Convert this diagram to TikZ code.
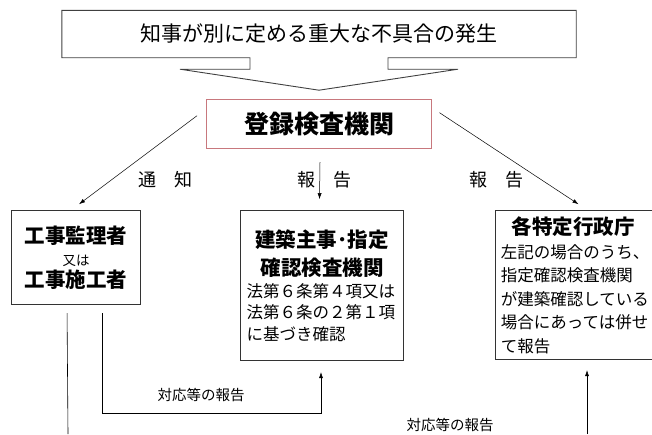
\documentclass[tikz,border=0pt]{standalone}
\usepackage{fontspec}
\setmainfont{Noto Sans CJK JP}
\usetikzlibrary{arrows.meta, positioning, calc}

\definecolor{kensared}{RGB}{200,120,125}

\begin{document}
\begin{tikzpicture}[
        x=1pt, y=-1pt,
        banner/.style={minimum width=514pt, minimum height=47pt, inner sep=0pt, font=\fontsize{21}{25}\selectfont},
        outline/.style={draw=black!75, line width=0.9pt},
        agency/.style={rectangle, draw=kensared, line width=1pt, minimum width=225pt, minimum height=49pt, font=\bfseries\fontsize{25}{30}\selectfont},
        party/.style={rectangle, draw=black!80, line width=0.9pt, inner xsep=6pt, inner ysep=0pt},
        arrow/.style={line width=0.5pt, ->, >={Latex[length=6pt,width=4pt]}},
        plainline/.style={line width=0.6pt},
        flowtext/.style={font=\fontsize{18}{22}\selectfont},
        note/.style={font=\fontsize{14.5}{18}\selectfont}
    ]
        \useasboundingbox (0,0) rectangle (652,434);

        % Trouble
        \node[banner] (trouble) at (319,34) {知事が別に定める重大な不具合の発生};
        \draw[outline] ($(trouble.south)+(-69,0)$) -- (trouble.south west) -- (trouble.north west)
            -- (trouble.north east) -- (trouble.south east) -- ($(trouble.south)+(69,0)$)
            -- ++(0,11.5) -- ++(70,0) -- ($(trouble.south)+(0,32.5)$)
            -- ($(trouble.south)+(-139,11.5)$) -- ++(70,0) -- cycle;

        % Inspection body
        \node[agency] (kensa) [below=41.5pt of trouble] {登録検査機関};

        % Parties
        \node[party, minimum width=129pt, minimum height=94pt, align=center, font=\bfseries\fontsize{20.5}{22}\selectfont] (kanri) [below left=61pt and 65pt of kensa]
            {工事監理者\\{\mdseries\fontsize{13.5}{16}\selectfont 又は}\\工事施工者};
        \node[party, text width=151pt, minimum height=150pt, align=left] (shuji) [below=61pt of kensa, xshift=3pt]
            {{\bfseries\fontsize{20.5}{28}\selectfont\centering 建築主事･指定\\確認検査機関\par}
             {\fontsize{16.5}{21.5}\selectfont 法第６条第４項又は\\法第６条の２第１項\\に基づき確認\par}};
        \node[party, text width=164pt, minimum height=149pt, align=left] (gyosei) [below right=61pt and 62.5pt of kensa]
            {{\bfseries\fontsize{20.5}{26}\selectfont\hspace*{11pt}各特定行政庁\par}
             {\fontsize{16.5}{23.5}\selectfont 左記の場合のうち、\\指定確認検査機関\\が建築確認している\\場合にあっては併せ\\て報告\par}};

        % Labels
        \node[flowtext] (tsuchi) at (165,180) {通　知};
        \node[flowtext] (hokoku1) at (324,180) {報　告};
        \node[flowtext] (hokoku2) at (496,180) {報　告};

        % Arrows
        \draw[arrow] ($(kensa.west)+(-9,-8.5)$) -- ($(kanri.north)+(3,-6)$);
        \draw[arrow] ($(kensa.south)+(1,13)$) -- ($(shuji.north)+(-2.5,-11)$);
        \draw[arrow] ($(kensa.east)+(7.5,-11.5)$) -- ($(gyosei.north west)+(84,-6)$);

        % Replies
        \coordinate (leftend) at (68,434);
        \coordinate (rightend) at (587,434);
        \draw[plainline] ($(kanri.south)+(-9,8)$) -- (leftend);
        \draw[arrow] ($(kanri.south)+(26,8)$) |- ($(shuji.south)+(-1,52)$) -- ($(shuji.south)+(-1,11)$);
        \node[note] (taio1) at (201,395) {対応等の報告};
        \draw[arrow] (rightend) -- (rightend |- {$(gyosei.south)+(0,10)$});
        \node[note] (taio2) at (450,425) {対応等の報告};
    \end{tikzpicture}
\end{document}
